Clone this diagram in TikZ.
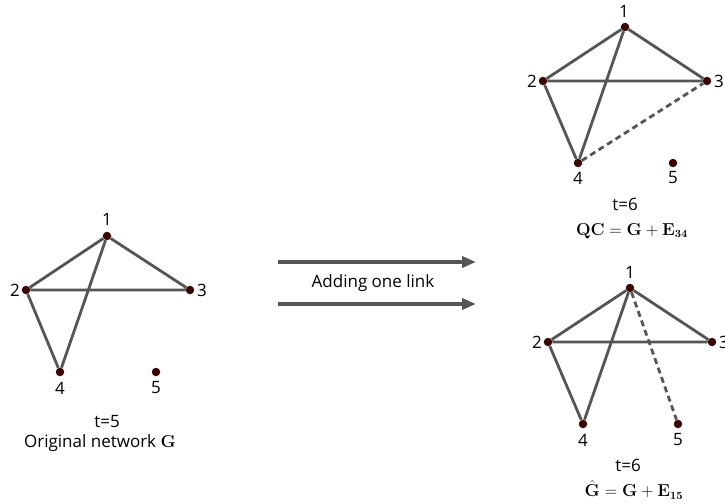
\documentclass[tikz,border=0pt]{standalone}
\usepackage{amsmath}
\usepackage[no-math]{fontspec}
\setmainfont{Open Sans}
\usetikzlibrary{arrows.meta}
\definecolor{edgegray}{HTML}{555555}
\definecolor{dotred}{HTML}{3A0505}
\tikzset{
  vert/.style={circle,fill=dotred,inner sep=0pt,minimum size=8.5pt},
  lab/.style={font=\fontsize{17}{18}\selectfont,inner sep=1pt},
  edge/.style={draw=edgegray,line width=2.8pt},
  newedge/.style={draw=edgegray,line width=2.8pt,dash pattern=on 6pt off 4pt},
  bigarrow/.style={draw=edgegray,line width=3.5pt,-{Triangle[length=14pt,width=11pt]}},
  captext/.style={font=\fontsize{17}{18}\selectfont,inner sep=0pt},
  mathtext/.style={font=\fontsize{16}{18}\selectfont,inner sep=0pt}
}
\begin{document}
\begin{tikzpicture}[x=1pt,y=-1pt]
\useasboundingbox (0,0) rectangle (725,503);
% left graph
\node[vert] (a1) at (107,236) {};
\node[vert] (a2) at (26,290) {};
\node[vert] (a3) at (190,290) {};
\node[vert] (a4) at (60,372) {};
\node[vert] (a5) at (156,372) {};
\draw[edge] (a1) -- (a2) (a1) -- (a3) (a1) -- (a4) (a2) -- (a3) (a2) -- (a4);
\node[lab] (la1) at (107,219) {1};
\node[lab] (la2) at (15,290) {2};
\node[lab] (la3) at (202,290) {3};
\node[lab] (la4) at (60,388) {4};
\node[lab] (la5) at (156,388) {5};
\node[captext] (ta) at (107,422) {t=5};
\node[captext] (na) at (100,443) {Original network $\mathbf{G}$};
% arrows
\coordinate (s1) at (278,262);
\coordinate (e1) at (476,262);
\coordinate (s2) at (278,304);
\coordinate (e2) at (476,304);
\draw[bigarrow] (s1) -- (e1);
\draw[bigarrow] (s2) -- (e2);
\node[captext] (add) at (373,283) {Adding one link};
% top right graph
\node[vert] (b1) at (625,27) {};
\node[vert] (b2) at (543,81) {};
\node[vert] (b3) at (707,81) {};
\node[vert] (b4) at (578,163) {};
\node[vert] (b5) at (673,163) {};
\draw[edge] (b1) -- (b2) (b1) -- (b3) (b1) -- (b4) (b2) -- (b3) (b2) -- (b4);
\draw[newedge] (b4) -- (b3);
\node[lab] (lb1) at (624,11) {1};
\node[lab] (lb2) at (532,81) {2};
\node[lab] (lb3) at (719,81) {3};
\node[lab] (lb4) at (578,178) {4};
\node[lab] (lb5) at (673,178) {5};
\node[captext] (tb) at (625,204) {t=6};
\node[mathtext] (fb) at (632,231) {$\mathbf{QC}=\mathbf{G}+\mathbf{E_{34}}$};
% bottom right graph
\node[vert] (c1) at (630,288) {};
\node[vert] (c2) at (548,342) {};
\node[vert] (c3) at (712,342) {};
\node[vert] (c4) at (583,424) {};
\node[vert] (c5) at (678,424) {};
\draw[edge] (c1) -- (c2) (c1) -- (c3) (c1) -- (c4) (c2) -- (c3) (c2) -- (c4);
\draw[newedge] (c1) -- (c5);
\node[lab] (lc1) at (630,272) {1};
\node[lab] (lc2) at (537,342) {2};
\node[lab,anchor=west] (lc3) at (718,342) {3};
\node[lab] (lc4) at (583,440) {4};
\node[lab] (lc5) at (678,440) {5};
\node[captext] (tc) at (628,465) {t=6};
\node[mathtext] (fc) at (634,490) {$\hat{\mathbf{G}}=\mathbf{G}+\mathbf{E_{15}}$};
\end{tikzpicture}
\end{document}
